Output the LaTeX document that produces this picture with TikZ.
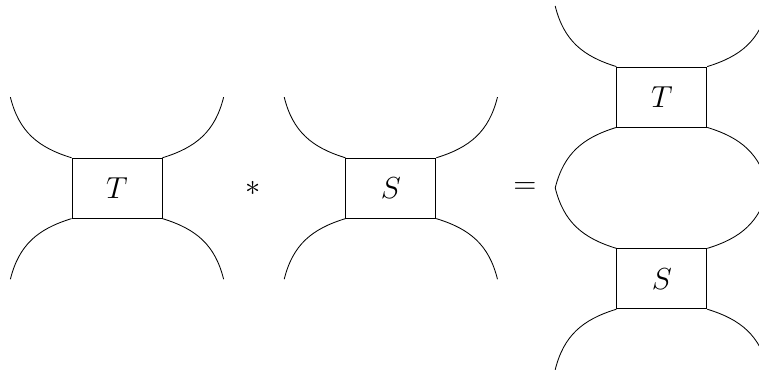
\documentclass[tikz,border=0pt]{standalone}
\usetikzlibrary{positioning}
\tikzset{tens/.style={draw,minimum width=1.5cm,minimum height=1cm,inner sep=0pt,font=\Large}}
\begin{document}
\begin{tikzpicture}
\useasboundingbox (0,0) rectangle (12.65,6.1667);
\clip (0,0) rectangle (12.65,6.1667);
\node[tens] (T1) at (1.95,3.03) {$T$};
\node[tens,right=3.05cm of T1] (S1) {$S$};
\node[tens] (T2) at (11.03,4.55) {$T$};
\node[tens] (S2) at (11.03,1.52) {$S$};
\node[font=\Large] (ast) at (4.22,3.03) {$*$};
\node[font=\Large] (eq) at (8.75,3.03) {$=$};
% legs of every box
\foreach \b in {T1,S1,T2,S2}{
  \draw (\b.north west) to[out=163,in=-76,looseness=1.05] ++(-1.02,1.01);
  \draw (\b.north east) to[out=17,in=-104,looseness=1.05] ++(1.02,1.01);
  \draw (\b.south west) to[out=-163,in=76,looseness=1.05] ++(-1.02,-1.01);
  \draw (\b.south east) to[out=-17,in=104,looseness=1.05] ++(1.02,-1.01);
}
\end{tikzpicture}
\end{document}
